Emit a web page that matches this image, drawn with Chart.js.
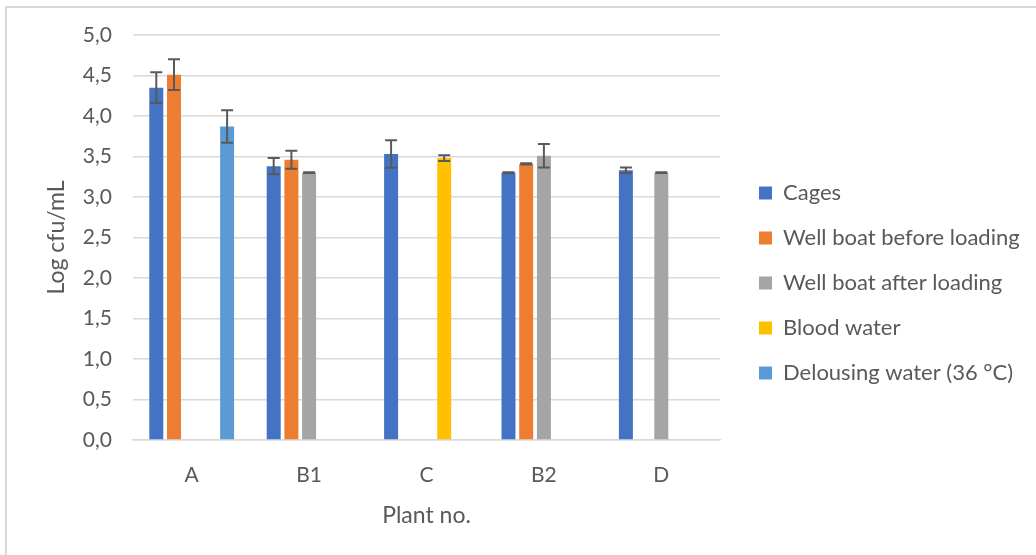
<!DOCTYPE html>
<html>
<head>
<meta charset="utf-8">
<script src="https://cdn.jsdelivr.net/npm/chart.js@4.4.1/dist/chart.umd.min.js"></script>
<style>
  html, body { margin: 0; padding: 0; background: #fff; }
  #wrap { position: relative; width: 1036px; height: 555px; overflow: hidden; }
  #frame { position: absolute; left: 5px; top: 6px; width: 1100px; height: 600px;
           border: 2px solid #d9d9d9; box-sizing: border-box; }
  #chart { position: absolute; left: 0; top: 0; }
</style>
</head>
<body>
<div id="wrap">
  <div id="frame"></div>
  <canvas id="chart" width="1036" height="555"></canvas>
</div>
<script>
var plants = ["A", "B1", "C", "B2", "D"];

var cages = [4.35, 3.38, 3.53, 3.30, 3.33];
var cagesErr = [0.19, 0.10, 0.17, 0.006, 0.035];

var beforeLoading = [4.51, 3.46, null, 3.41, null];
var beforeLoadingErr = [0.19, 0.11, null, 0.008, null];

var afterLoading = [null, 3.30, null, 3.51, 3.30];
var afterLoadingErr = [null, 0.005, null, 0.145, 0.005];

var bloodWater = [null, null, 3.48, null, null];
var bloodWaterErr = [null, null, 0.035, null, null];

var delousing = [3.87, null, null, null, null];
var delousingErr = [0.2, null, null, null, null];

var textColor = "#595959";
var fontName = "Lato, 'Open Sans', sans-serif";

// draws the error bars on top of every bar
var errorBars = {
  id: "errorBars",
  afterDatasetsDraw: function (chart) {
    var ctx = chart.ctx;
    var y = chart.scales.y;
    ctx.save();
    ctx.strokeStyle = "#595959";
    ctx.lineWidth = 2;
    chart.data.datasets.forEach(function (ds, i) {
      var meta = chart.getDatasetMeta(i);
      meta.data.forEach(function (bar, j) {
        var v = ds.data[j];
        var e = ds.errors[j];
        if (v === null || e === null) return;
        var top = y.getPixelForValue(v + e);
        var bot = y.getPixelForValue(v - e);
        ctx.beginPath();
        ctx.moveTo(bar.x, top);
        ctx.lineTo(bar.x, bot);
        ctx.moveTo(bar.x - 6, top);
        ctx.lineTo(bar.x + 6, top);
        ctx.moveTo(bar.x - 6, bot);
        ctx.lineTo(bar.x + 6, bot);
        ctx.stroke();
      });
    });
    ctx.restore();
  },
};

// fixed legend width so the legend starts where the reference has it
var legendWidth = {
  id: "legendWidth",
  afterInit: function (chart) {
    var legend = chart.legend;
    var fit = legend.fit;
    legend.fit = function () {
      fit.call(this);
      this.width = 300;
    };
  },
};

new Chart(document.getElementById("chart"), {
  type: "bar",
  data: {
    labels: plants,
    datasets: [
      { label: "Cages", data: cages, errors: cagesErr, backgroundColor: "#4472C4" },
      { label: "Well boat before loading", data: beforeLoading, errors: beforeLoadingErr, backgroundColor: "#ED7D31" },
      { label: "Well boat after loading", data: afterLoading, errors: afterLoadingErr, backgroundColor: "#A5A5A5" },
      { label: "Blood water", data: bloodWater, errors: bloodWaterErr, backgroundColor: "#FFC000" },
      { label: "Delousing water (36 °C)", data: delousing, errors: delousingErr, backgroundColor: "#5B9BD5" },
    ],
  },
  options: {
    responsive: false,
    animation: false,
    categoryPercentage: 0.754,
    barPercentage: 0.79,
    layout: {
      padding: { top: 35, left: 40, right: 0, bottom: 24 },
    },
    plugins: {
      legend: {
        position: "right",
        labels: {
          boxWidth: 13,
          boxHeight: 13,
          padding: 23,
          color: textColor,
          font: { family: fontName, size: 22 },
        },
      },
      tooltip: { enabled: false },
    },
    scales: {
      x: {
        grid: { display: false, drawTicks: false },
        border: { color: "#d9d9d9", width: 1.5 },
        ticks: { padding: 23, color: textColor, font: { family: fontName, size: 21 } },
        title: {
          display: true,
          text: "Plant no.",
          color: textColor,
          font: { family: fontName, size: 23 },
          padding: { top: 0, bottom: 2 },
        },
        afterFit: function (s) {
          s.height = 91;
        },
      },
      y: {
        min: 0,
        max: 5,
        grid: { color: "#d9d9d9", lineWidth: 1.5, drawTicks: false },
        border: { display: false },
        ticks: {
          stepSize: 0.5,
          padding: 21,
          color: textColor,
          font: { family: fontName, size: 21 },
          callback: function (v) {
            return v.toFixed(1).replace(".", ",");
          },
        },
        title: {
          display: true,
          text: "Log cfu/mL",
          color: textColor,
          font: { family: fontName, size: 23 },
          padding: { top: 3, bottom: 0 },
        },
        afterFit: function (s) {
          s.width = 93;
        },
      },
      gap: {
        position: "right",
        grid: { display: false, drawTicks: false },
        border: { display: false },
        ticks: { display: false },
        afterFit: function (s) {
          s.width = 16;
        },
      },
    },
  },
  plugins: [errorBars, legendWidth],
});
</script>
</body>
</html>
